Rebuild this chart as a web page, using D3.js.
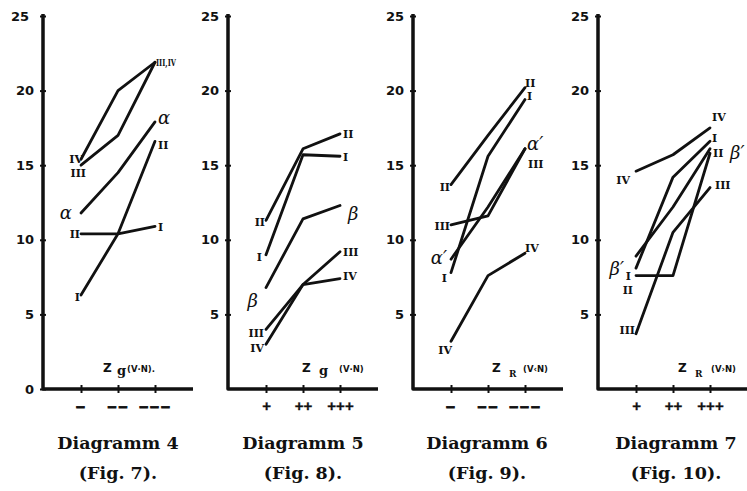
<!DOCTYPE html>
<html><head><meta charset="utf-8">
<script src="https://cdn.jsdelivr.net/npm/d3@7"></script>
<style>body{margin:0;background:#fff}svg{display:block}</style>
</head><body>
<svg id="c" width="747" height="491"></svg>
<script>
// ---------- data ----------
const yTicksFirst = [0, 5, 10, 15, 20, 25];
const yTicksOther = [5, 10, 15, 20, 25];
const xMinus = ["–", "––", "–––"];
const xPlus = ["+", "++", "+++"];
const titles = ["Diagramm 4", "Diagramm 5", "Diagramm 6", "Diagramm 7"];
const figs = ["(Fig. 7).", "(Fig. 8).", "(Fig. 9).", "(Fig. 10)."];
const zSubs = ["g", "g", "R", "R"];
const zConds = ["(V·N).", "(V·N)", "(V‹N)", "(V›N)"];

// Diagramm 4
const d4Names = ["I", "II", "III", "IV", "α"];
const d4Values = [[6.3, 10.4, 10.9], [10.4, 10.4, 16.6], [15.0, 17.0, 21.9], [15.4, 20.0, 21.9], [11.8, 14.5, 17.9]];
const d4Left = ["I", "II", "III", "IV", "α"];
const d4Right = ["I", "II", "III,IV", "", "α"];
// Diagramm 5
const d5Names = ["II", "I", "β", "III", "IV"];
const d5Values = [[11.3, 16.1, 17.1], [9.0, 15.7, 15.6], [6.8, 11.4, 12.3], [4.0, 7.0, 9.2], [3.0, 7.0, 7.4]];
const d5Left = ["II", "I", "β", "III", "IV"];
const d5Right = ["II", "I", "β", "III", "IV"];
// Diagramm 6
const d6Names = ["II", "I", "α′", "III", "IV"];
const d6Values = [[13.7, 17.0, 20.2], [7.8, 15.6, 19.4], [8.7, 12.2, 16.1], [11.0, 11.6, 16.1], [3.2, 7.6, 9.1]];
const d6Left = ["II", "I", "α′", "III", "IV"];
const d6Right = ["II", "I", "α′", "III", "IV"];
// Diagramm 7
const d7Names = ["IV", "I", "β′", "II", "III"];
const d7Values = [[14.6, 15.7, 17.5], [8.1, 14.2, 16.6], [8.9, 12.2, 16.1], [7.6, 7.6, 15.8], [3.7, 10.5, 13.5]];
const d7Left = ["IV", "I", "β′", "II", "III"];
const d7Right = ["IV", "I", "β′", "II", "III"];

// ---------- layout (positions / styles) ----------
const panelX = [43, 228, 413, 598];
const zOffsets = [[60, 14, 24], [74, 17, 37], [79, 17, 31], [80, 17, 33]];
const captionDx = [75, 75, 74, 78];
const d4LeftOff = [[-1, 2], [-1, 1], [5, 8], [2, 0], [-9, 0]];
const d4RightOff = [[3, 1], [3, 4], [1, 0], [0, 0], [3, -4]];
const d5LeftOff = [[-1, 2], [-4, 3], [-8, 13], [-2, 4], [-2, 4]];
const d5RightOff = [[3, 1], [3, 1], [8, 8], [3, 1], [3, -2]];
const d6LeftOff = [[-1, 3], [-4, 6], [-4, -2], [-1, 2], [1, 9]];
const d6RightOff = [[0, -4], [2, -3], [2, -5], [3, 16], [0, -5]];
const d7LeftOff = [[-6, 9], [-5, 8], [-12, 12], [-3, 15], [-1, -3]];
const d7RightOff = [[2, -10], [2, -3], [20, 4], [3, 0], [5, -2]];

const INK = "#111";
const svg = d3.select("#c");
svg.append("rect").attr("width", 747).attr("height", 491).attr("fill", "#fff");
const y = d3.scaleLinear().domain([0, 25]).range([389, 16]);
const isGreek = t => /[αβ]/.test(t);

function drawPanel(p, cats, names, values, leftL, rightL, leftOff, rightOff, ticks) {
  const ax = panelX[p];
  const x = d3.scalePoint().domain(cats).range([ax + 38, ax + 112]);
  const g = svg.append("g");

  // y axis ticks & labels
  const ga = g.append("g").attr("transform", `translate(${ax},0)`)
    .call(d3.axisLeft(y).tickValues(ticks).tickSize(3).tickPadding(6).tickFormat(d3.format("d")));
  ga.select(".domain").remove();
  ga.selectAll(".tick line").attr("x1", -3).attr("x2", 3).attr("stroke", INK).attr("stroke-width", 2);
  ga.selectAll(".tick text").attr("font-family", "DejaVu Sans").attr("font-weight", "bold")
    .attr("font-size", 13).attr("fill", INK)
    .attr("dx", d => (p === 0 && d === 25) ? -5 : 0);

  // x axis ticks & labels
  const gx = g.append("g").attr("transform", `translate(0,${y(0)})`)
    .call(d3.axisBottom(x).tickSize(4));
  gx.select(".domain").remove();
  gx.selectAll(".tick line").attr("y1", -4).attr("y2", 4).attr("stroke", INK).attr("stroke-width", 2);
  gx.selectAll(".tick text").attr("y", 17).attr("dy", "0.35em")
    .attr("font-family", "Liberation Sans").attr("font-weight", "bold")
    .attr("font-size", cats === xPlus ? 15 : 16)
    .attr("letter-spacing", cats === xPlus ? 0 : 2)
    .attr("stroke", INK).attr("stroke-width", cats === xPlus ? 0.3 : 0.8)
    .attr("fill", INK);

  // frame
  g.append("path").attr("d", `M${ax},${y(25) - 2}V${y(0)}H${ax + 150}`)
    .attr("fill", "none").attr("stroke", INK).attr("stroke-width", 3.5).attr("stroke-linejoin", "round");

  // series lines
  const line = d3.line().x((d, i) => x(cats[i])).y(d => y(d));
  g.selectAll("path.series").data(values).join("path").attr("class", "series")
    .attr("d", d => line(d)).attr("fill", "none").attr("stroke", INK)
    .attr("stroke-width", 2.8).attr("stroke-linejoin", "round").attr("stroke-linecap", "round");

  // labels
  function addLabel(t, px, py, anchor) {
    if (!t) return;
    const el = g.append("text").attr("x", px).attr("y", py)
      .attr("text-anchor", anchor).attr("dominant-baseline", "central").attr("fill", INK).text(t);
    if (isGreek(t)) {
      el.attr("font-family", "DejaVu Serif").attr("font-style", "italic").attr("font-size", 18);
    } else {
      el.attr("font-family", "DejaVu Serif").attr("font-weight", "bold").attr("font-size", 11);
      if (t.includes(",")) el.attr("font-size", 9.5).attr("textLength", 20).attr("lengthAdjust", "spacingAndGlyphs");
    }
  }
  values.forEach((v, i) => {
    addLabel(leftL[i], x(cats[0]) + leftOff[i][0], y(v[0]) + leftOff[i][1], "end");
    addLabel(rightL[i], x(cats[2]) + rightOff[i][0], y(v[2]) + rightOff[i][1], "start");
  });

  // Z label
  const zo = zOffsets[p];
  g.append("text").attr("x", ax + zo[0]).attr("y", 372).attr("font-family", "DejaVu Sans")
    .attr("font-weight", "bold").attr("font-size", 12).attr("fill", INK).text("Z");
  g.append("text").attr("x", ax + zo[0] + zo[1]).attr("y", zSubs[p] === "g" ? 375 : 377)
    .attr("font-family", "DejaVu Serif").attr("font-weight", "bold")
    .attr("font-size", zSubs[p] === "g" ? 13 : 9).attr("fill", INK).text(zSubs[p]);
  g.append("text").attr("x", ax + zo[0] + zo[2]).attr("y", 372).attr("font-family", "DejaVu Sans")
    .attr("font-weight", "bold").attr("font-size", 8.5).attr("fill", INK).text(zConds[p]);

  // captions
  g.append("text").attr("x", ax + captionDx[p]).attr("y", 449).attr("text-anchor", "middle")
    .attr("font-family", "DejaVu Serif").attr("font-weight", "bold").attr("font-size", 17.5)
    .attr("fill", INK).text(titles[p]);
  g.append("text").attr("x", ax + captionDx[p]).attr("y", 479).attr("text-anchor", "middle")
    .attr("font-family", "DejaVu Serif").attr("font-weight", "bold").attr("font-size", 17.5)
    .attr("fill", INK).text(figs[p]);
}

drawPanel(0, xMinus, d4Names, d4Values, d4Left, d4Right, d4LeftOff, d4RightOff, yTicksFirst);
drawPanel(1, xPlus, d5Names, d5Values, d5Left, d5Right, d5LeftOff, d5RightOff, yTicksOther);
drawPanel(2, xMinus, d6Names, d6Values, d6Left, d6Right, d6LeftOff, d6RightOff, yTicksOther);
drawPanel(3, xPlus, d7Names, d7Values, d7Left, d7Right, d7LeftOff, d7RightOff, yTicksOther);
</script>
</body></html>
